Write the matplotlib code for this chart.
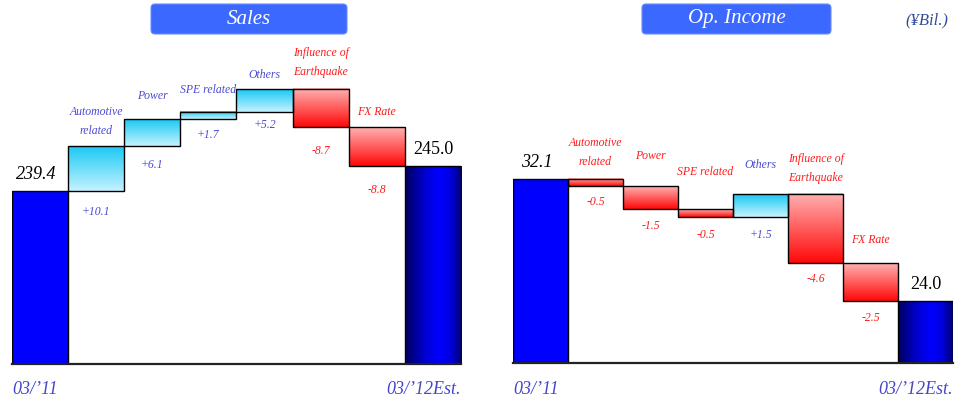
import numpy as np
import matplotlib.pyplot as plt
from matplotlib.colors import LinearSegmentedColormap
from matplotlib.patches import FancyBboxPatch

plt.rcParams['font.family'] = ['Liberation Serif', 'DejaVu Serif']

# data
steps = ["Automotive\nrelated", "Power", "SPE related", "Others",
         "Influence of\nEarthquake", "FX Rate"]
periods = ["03/\u201911", "03/\u201912Est."]

sales_start = 239.4
sales_delta = [10.1, 6.1, 1.7, 5.2, -8.7, -8.8]
sales_end = 245.0

inc_start = 32.1
inc_delta = [-0.5, -1.5, -0.5, 1.5, -4.6, -2.5]
inc_end = 24.0

# label gaps in pixels (above bar top / below bar bottom)
sales_name_gap = [9, 17, 16, 8, 11, 9]
sales_val_gap = [21, 19, 16, 13, 24, 24]
inc_name_gap = [11, 24, 31, 23, 10, 17]
inc_val_gap = [16, 17, 18, 18, 16, 17]

up_cmap = LinearSegmentedColormap.from_list('up', ['#c6f3ff', '#1ac8f4'])
down_cmap = LinearSegmentedColormap.from_list('down', ['#ff0808', '#ffb2b2'])
end_cmap = LinearSegmentedColormap.from_list(
    'end', [(0, '#000060'), (0.35, '#0000d0'), (0.6, '#0000ff'), (0.8, '#0000e0'), (1, '#000070')])

POS = '#4a4ad2'
NEG = '#ff1c1c'
PX = 0.72  # points per pixel at 100 dpi


def waterfall(ax, start, deltas, end, ymin, ymax, name_gap, val_gap):
    n = len(deltas)
    tops = start + np.cumsum(deltas)
    prev = np.concatenate([[start], tops[:-1]])
    low = np.minimum(prev, tops)
    high = np.maximum(prev, tops)
    vert = np.linspace(0, 1, 256).reshape(-1, 1)
    horiz = np.linspace(0, 1, 256).reshape(1, -1)

    # start bar
    ax.bar(0, start - ymin, bottom=ymin, width=1, color='#0000ff',
           edgecolor='black', linewidth=1, zorder=2)
    # steps
    for i in range(n):
        xi = i + 1
        cmap = up_cmap if deltas[i] > 0 else down_cmap
        ax.imshow(vert, cmap=cmap, extent=[xi - 0.5, xi + 0.5, low[i], high[i]],
                  aspect='auto', origin='lower', zorder=1)
        ax.bar(xi, high[i] - low[i], bottom=low[i], width=1, facecolor='none',
               edgecolor='black', linewidth=1, zorder=2)
        col = POS if deltas[i] > 0 else NEG
        ax.annotate(steps[i], (xi, high[i]), xytext=(0, name_gap[i] * PX),
                    textcoords='offset points', ha='center', va='bottom',
                    fontsize=8.5, style='italic', color=col, linespacing=1.75)
        ax.annotate(f"{deltas[i]:+.1f}", (xi, low[i]), xytext=(0, -val_gap[i] * PX),
                    textcoords='offset points', ha='center', va='center',
                    fontsize=8.5, style='italic', color=col)
    # end bar
    xe = n + 1
    ax.imshow(horiz, cmap=end_cmap, extent=[xe - 0.5, xe + 0.5, ymin, end],
              aspect='auto', origin='lower', zorder=1)
    ax.bar(xe, end - ymin, bottom=ymin, width=1, facecolor='none',
           edgecolor='black', linewidth=1, zorder=2)

    ax.annotate(f"{start:.1f}", (0, start), xytext=(-4 * PX, 8 * PX),
                textcoords='offset points', ha='center', va='bottom',
                fontsize=13, style='italic', color='black')
    ax.annotate(f"{end:.1f}", (xe, end), xytext=(0, 8 * PX),
                textcoords='offset points', ha='center', va='bottom',
                fontsize=13, color='black')
    ax.annotate(periods[0], (-0.5, ymin), xytext=(0, -26 * PX),
                textcoords='offset points', ha='left', va='center',
                fontsize=13, style='italic', color='#4444cc')
    ax.annotate(periods[1], (xe + 0.5, ymin), xytext=(0, -26 * PX),
                textcoords='offset points', ha='right', va='center',
                fontsize=13, style='italic', color='#4444cc')

    ax.set_xlim(-0.5, n + 1.5)
    ax.set_ylim(ymin, ymax)
    for s in ['top', 'left', 'right']:
        ax.spines[s].set_visible(False)
    ax.spines['bottom'].set_linewidth(1.6)
    ax.spines['bottom'].set_color('#222222')
    ax.set_xticks([])
    ax.set_yticks([])
    ax.patch.set_alpha(0)


fig = plt.figure(figsize=(9.56, 4.05), dpi=100)

ax1 = fig.add_axes([12 / 956, 41 / 405, 449 / 956, 364 / 405])
waterfall(ax1, sales_start, sales_delta, sales_end, 200.0, 200.0 + 364 / 4.4,
          sales_name_gap, sales_val_gap)

ax2 = fig.add_axes([513 / 956, 42 / 405, 440 / 956, 363 / 405])
waterfall(ax2, inc_start, inc_delta, inc_end, 19.9, 19.9 + 363 / 15.1,
          inc_name_gap, inc_val_gap)

# title boxes
for x0, w, label in [(1.51, 1.96, "Sales"), (6.42, 1.89, "Op. Income")]:
    box = FancyBboxPatch((x0, 4.05 - 0.34), w, 0.30,
                         boxstyle="round,pad=0,rounding_size=0.04",
                         transform=fig.dpi_scale_trans, facecolor='#3b68ff',
                         edgecolor='#6a8cff', linewidth=0.8)
    fig.add_artist(box)
    fig.text((x0 + w / 2) / 9.56, (4.05 - 0.19) / 4.05, label, ha='center', va='center',
             fontsize=15, style='italic', color='white')

fig.text(948 / 956, 1 - 20 / 405, "(\u00a5Bil.)", ha='right', va='center',
         fontsize=12, style='italic', color='#334c9c')

fig.savefig('out.png', dpi=100)
